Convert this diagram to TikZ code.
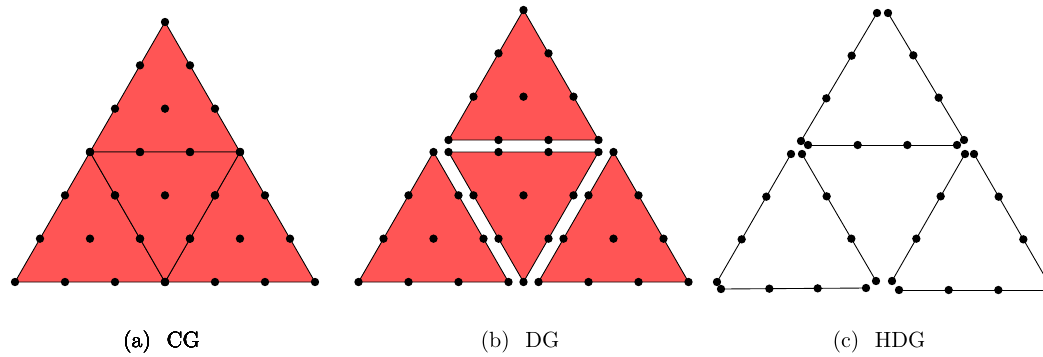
\documentclass[tikz,border=0pt]{standalone}
\usepackage{tikz}
\definecolor{DOFred}{RGB}{255,85,85}
\usetikzlibrary{calc, positioning}

\tikzset{
  elem/.style={fill=DOFred, draw=black, line width=0.4pt, line join=round},
  face/.style={draw=black, line width=0.4pt},
}
% P3 nodes of one element: vertices, two per edge, one inside
\newcommand{\elemdofs}[3]{%
  \foreach \p/\q in {#1/#2, #2/#3, #3/#1} {
    \fill (\p) circle[radius=1.9pt];
    \fill ($(\p)!1/3!(\q)$) circle[radius=1.9pt];
    \fill ($(\p)!2/3!(\q)$) circle[radius=1.9pt];
  }
  \fill (barycentric cs:#1=1,#2=1,#3=1) circle[radius=1.9pt];
}
% P3 nodes of one face
\newcommand{\facedofs}[2]{%
  \draw[face] (#1) -- (#2);
  \foreach \fr in {0,1/3,2/3,1}
    \fill ($(#1)!\fr!(#2)$) circle[radius=1.9pt];
}

\begin{document}
\begin{tikzpicture}[x=0.4545pt, y=-0.4545pt]
   \useasboundingbox (0,0) rectangle (1043,356);
   \clip (0,0) rectangle (1043,356);
   % (a) CG: four elements sharing their nodes
   \coordinate (cA) at (15,282);
   \coordinate (cB) at (315,282);
   \coordinate (cC) at (165,22);
   \coordinate (cAB) at (165,282);
   \coordinate (cBC) at (240,152);
   \coordinate (cCA) at (90,152);
   \path[elem] (cCA) -- (cBC) -- (cC) -- cycle;
   \path[elem] (cA) -- (cAB) -- (cCA) -- cycle;
   \path[elem] (cAB) -- (cB) -- (cBC) -- cycle;
   \path[elem] (cCA) -- (cBC) -- (cAB) -- cycle;
   \elemdofs{cCA}{cBC}{cC}
   \elemdofs{cA}{cAB}{cCA}
   \elemdofs{cAB}{cB}{cBC}
   \elemdofs{cCA}{cBC}{cAB}
   % (b) DG: the same elements pulled apart
   \coordinate (dTa) at (448.5,140);
   \coordinate (dTb) at (598.5,140);
   \coordinate (dTc) at (523.5,10);
   \coordinate (dMa) at (448.5,152);
   \coordinate (dMb) at (598.5,152);
   \coordinate (dMc) at (523.5,282);
   \coordinate (dLa) at (358.5,282);
   \coordinate (dLb) at (508.5,282);
   \coordinate (dLc) at (433.5,152);
   \coordinate (dRa) at (538.5,282);
   \coordinate (dRb) at (688.5,282);
   \coordinate (dRc) at (613.5,152);
   \path[elem] (dTa) -- (dTb) -- (dTc) -- cycle;
   \path[elem] (dMa) -- (dMb) -- (dMc) -- cycle;
   \path[elem] (dLa) -- (dLb) -- (dLc) -- cycle;
   \path[elem] (dRa) -- (dRb) -- (dRc) -- cycle;
   \elemdofs{dTa}{dTb}{dTc}
   \elemdofs{dMa}{dMb}{dMc}
   \elemdofs{dLa}{dLb}{dLc}
   \elemdofs{dRa}{dRb}{dRc}
   % (c) HDG: only the faces carry nodes
   \coordinate (h1a) at (877,13);   \coordinate (h1b) at (801,141);
   \coordinate (h2a) at (888,13);   \coordinate (h2b) at (964,140);
   \coordinate (h3a) at (808,145);  \coordinate (h3b) at (957,145);
   \coordinate (h4a) at (791,154);  \coordinate (h4b) at (717,282);
   \coordinate (h5a) at (802,154);  \coordinate (h5b) at (876,281);
   \coordinate (h6a) at (721,289);  \coordinate (h6b) at (866,288);
   \coordinate (h7a) at (965,154);  \coordinate (h7b) at (892,281);
   \coordinate (h8a) at (974,154);  \coordinate (h8b) at (1048,282);
   \coordinate (h9a) at (899,290);  \coordinate (h9b) at (1048,290);
   \foreach \k in {1,...,9}
      \facedofs{h\k a}{h\k b}
   % captions
   \node[anchor=base] (capCG) at (161.5,347) {(a)\hspace{7pt}CG};
   \node[anchor=base] (capDG) at (520,347) {(b)\hspace{7pt}DG};
   \node[anchor=base] (capHDG) at (879,347) {(c)\hspace{7pt}HDG};
\end{tikzpicture}
\end{document}
